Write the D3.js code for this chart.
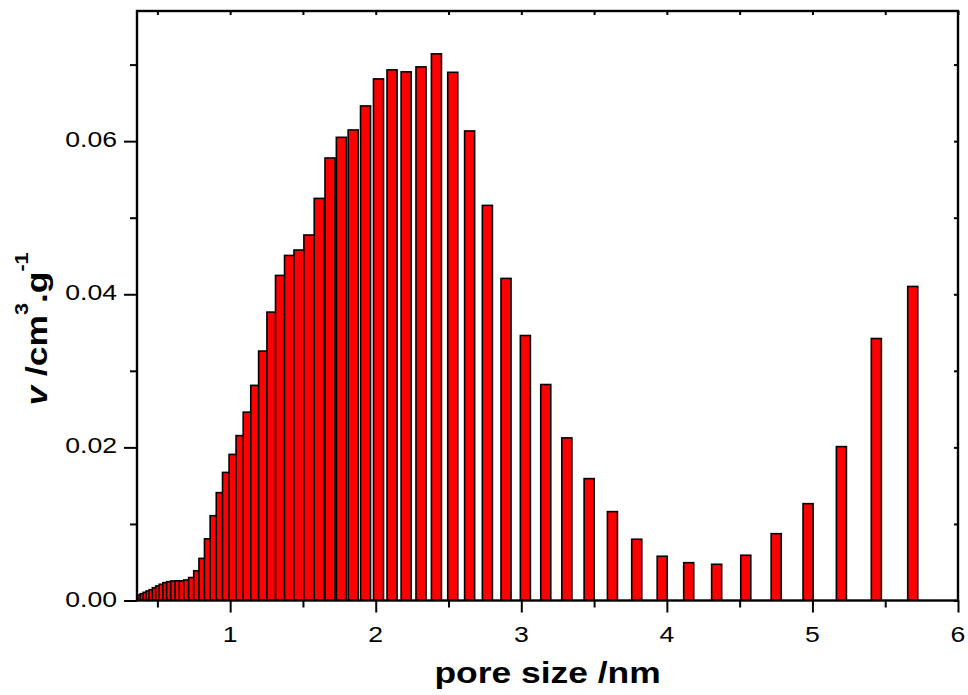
<!DOCTYPE html>
<html>
<head>
<meta charset="utf-8">
<script src="https://cdn.jsdelivr.net/npm/d3@7"></script>
<style>
  body { margin: 0; background: #fff; }
  svg { display: block; }
  text { font-family: "Liberation Sans", Arial, sans-serif; fill: #000; }
</style>
</head>
<body>
<svg id="chart" width="968" height="695"></svg>
<script>
// Pore size distribution (DFT-style bins), pore width in nm
const poreSize = [
  0.365, 0.381, 0.399, 0.417, 0.437, 0.457, 0.478, 0.500, 0.523, 0.547,
  0.572, 0.598, 0.626, 0.655, 0.685, 0.716, 0.749, 0.784, 0.820, 0.858,
  0.897, 0.939, 0.982, 1.027, 1.075, 1.124, 1.176, 1.230, 1.287, 1.346,
  1.408, 1.473, 1.541, 1.612, 1.686, 1.764, 1.845, 1.930, 2.019, 2.112,
  2.209, 2.311, 2.417, 2.529, 2.645, 2.767, 2.895, 3.028, 3.168, 3.313,
  3.466, 3.626, 3.793, 3.968, 4.150, 4.342, 4.542, 4.751, 4.970, 5.199,
  5.439, 5.689
];
// Incremental pore volume, cm3/g
const poreVolume = [
  0.00042, 0.00059, 0.00072, 0.00089, 0.00107, 0.00124, 0.00141, 0.00167, 0.00190, 0.00212,
  0.00233, 0.00246, 0.00255, 0.00255, 0.00255, 0.00268, 0.00300, 0.00388, 0.00550, 0.00806,
  0.01108, 0.01409, 0.01673, 0.01908, 0.02154, 0.02460, 0.02810, 0.03258, 0.03767, 0.04246,
  0.04507, 0.04578, 0.04774, 0.05252, 0.05780, 0.06050, 0.06146, 0.06460, 0.06813, 0.06931,
  0.06905, 0.06970, 0.07140, 0.06899, 0.06133, 0.05161, 0.04207, 0.03461, 0.02821, 0.02124,
  0.01592, 0.01161, 0.00800, 0.00578, 0.00494, 0.00473, 0.00591, 0.00873, 0.01265, 0.02010,
  0.03422, 0.04102
];
const xMajorTicks = [1, 2, 3, 4, 5, 6];
const xMinorTicks = [0.5, 1.5, 2.5, 3.5, 4.5, 5.5];
const yMajorTicks = [0, 0.02, 0.04, 0.06];
const yMinorTicks = [0.01, 0.03, 0.05, 0.07];
const xDomain = [0.36, 6];
const yDomain = [0, 0.077];

const barWidthNm = 0.069;   // fixed column width in x units
const textStretch = 1.21;   // wide lettering used by all labels

const plot = { left: 137, right: 958, top: 11, bottom: 600.5 };

const svg = d3.select("#chart");

const x = d3.scaleLinear().domain(xDomain).range([plot.left, plot.right]);
const y = d3.scaleLinear().domain(yDomain).range([plot.bottom, plot.top]);

const data = poreSize.map((p, i) => ({ p, v: poreVolume[i] }));

svg.append("defs").append("clipPath").attr("id", "plot-clip")
  .append("rect")
  .attr("x", plot.left).attr("y", plot.top)
  .attr("width", plot.right - plot.left).attr("height", plot.bottom - plot.top);

// Columns, drawn left to right so each one overlaps its predecessor
svg.append("g").attr("clip-path", "url(#plot-clip)")
  .selectAll("rect").data(data).join("rect")
  .attr("x", d => x(d.p - barWidthNm / 2))
  .attr("width", d => x(d.p + barWidthNm / 2) - x(d.p - barWidthNm / 2))
  .attr("y", d => y(d.v))
  .attr("height", d => y(0) - y(d.v))
  .attr("fill", "#ff0000")
  .attr("stroke", "#000")
  .attr("stroke-width", 1.6);

const fmtY = d3.format(".2f");

function styleAxis(g, width) {
  g.selectAll(".domain").remove();
  g.selectAll("line").attr("stroke", "#000").attr("stroke-width", width);
}

// Bottom axis ticks
svg.append("g").attr("transform", `translate(0,${plot.bottom})`)
  .call(d3.axisBottom(x).tickValues(xMajorTicks).tickSize(12).tickFormat(""))
  .call(g => styleAxis(g, 2));
svg.append("g").attr("transform", `translate(0,${plot.bottom})`)
  .call(d3.axisBottom(x).tickValues(xMinorTicks).tickSize(7).tickFormat(""))
  .call(g => styleAxis(g, 2));

// Left axis ticks
svg.append("g").attr("transform", `translate(${plot.left},0)`)
  .call(d3.axisLeft(y).tickValues(yMajorTicks).tickSize(13).tickFormat(""))
  .call(g => styleAxis(g, 2));
svg.append("g").attr("transform", `translate(${plot.left},0)`)
  .call(d3.axisLeft(y).tickValues(yMinorTicks).tickSize(7).tickFormat(""))
  .call(g => styleAxis(g, 2));

// Tick labels (horizontally widened lettering)
svg.append("g").selectAll("text").data(xMajorTicks).join("text")
  .attr("transform", d => `translate(${x(d)},${plot.bottom + 41}) scale(${textStretch},1)`)
  .attr("text-anchor", "middle")
  .attr("font-size", 22)
  .text(d3.format("d"));
svg.append("g").selectAll("text").data(yMajorTicks).join("text")
  .attr("transform", d => `translate(${plot.left - 20},${y(d) + 6}) scale(${textStretch},1)`)
  .attr("text-anchor", "end")
  .attr("font-size", 22)
  .text(fmtY);

// Top and right axes: short inward ticks
svg.append("g").attr("transform", `translate(0,${plot.top})`)
  .call(d3.axisBottom(x).tickValues(xMajorTicks.concat(xMinorTicks)).tickSize(4).tickFormat(""))
  .call(g => styleAxis(g, 2));
svg.append("g").attr("transform", `translate(${plot.right},0)`)
  .call(d3.axisLeft(y).tickValues(yMajorTicks.concat(yMinorTicks)).tickSize(4).tickFormat(""))
  .call(g => styleAxis(g, 2));

// Frame
svg.append("rect")
  .attr("x", plot.left).attr("y", plot.top)
  .attr("width", plot.right - plot.left).attr("height", plot.bottom - plot.top)
  .attr("fill", "none").attr("stroke", "#000").attr("stroke-width", 2.4);

// Axis titles
svg.append("text")
  .attr("transform", `translate(${(plot.left + plot.right) / 2},683) scale(1.2,1)`)
  .attr("text-anchor", "middle")
  .attr("font-size", 29.5).attr("font-weight", "bold")
  .text("pore size /nm");

const yTitle = svg.append("text")
  .attr("transform", `translate(47,329) rotate(-90) scale(1.2,1)`)
  .attr("text-anchor", "middle")
  .attr("font-size", 29.5).attr("font-weight", "bold");
yTitle.append("tspan").attr("font-style", "italic").text("v");
yTitle.append("tspan").text(" /cm");
yTitle.append("tspan").attr("font-size", 18).attr("dy", -19).text("3");
yTitle.append("tspan").attr("dy", 19).text(".g");
yTitle.append("tspan").attr("font-size", 18).attr("dy", -19).text("-1");
</script>
</body>
</html>
